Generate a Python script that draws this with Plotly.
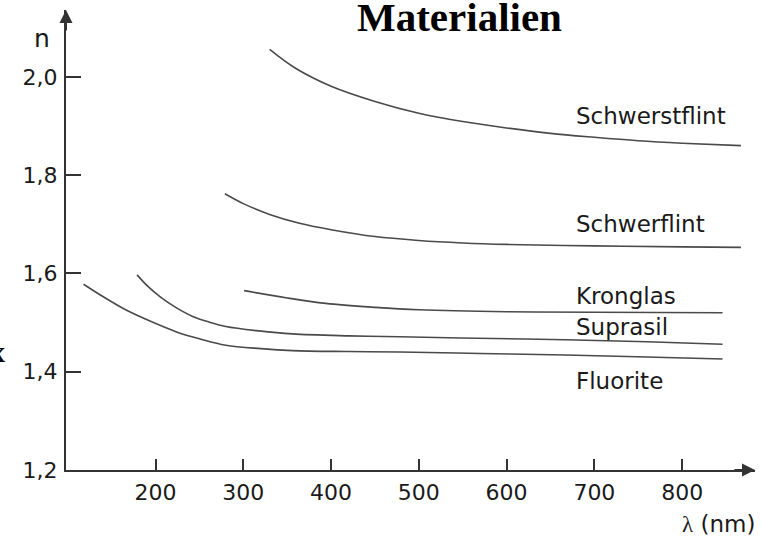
import plotly.graph_objects as go

# Wavelength (nm) and refractive index n
schwerstflint_x = [330, 360, 400, 450, 500, 550, 600, 650, 700, 750, 800, 867]
schwerstflint_y = [2.056, 2.017, 1.981, 1.950, 1.926, 1.909, 1.896, 1.885, 1.877, 1.870, 1.865, 1.860]

schwerflint_x = [279, 300, 330, 364, 400, 450, 500, 550, 600, 700, 800, 867]
schwerflint_y = [1.762, 1.742, 1.720, 1.702, 1.689, 1.675, 1.667, 1.662, 1.659, 1.656, 1.654, 1.653]

kronglas_x = [301, 350, 394, 450, 500, 600, 700, 846]
kronglas_y = [1.565, 1.550, 1.539, 1.531, 1.526, 1.522, 1.521, 1.520]

suprasil_x = [179, 191, 205, 223, 243, 261, 280, 318, 356, 420, 478, 567, 667, 760, 846]
suprasil_y = [1.597, 1.574, 1.553, 1.531, 1.512, 1.501, 1.492, 1.483, 1.477, 1.473, 1.471, 1.468, 1.465, 1.461, 1.456]

fluorite_x = [118, 140, 166, 195, 224, 252, 280, 320, 356, 420, 478, 570, 667, 760, 846]
fluorite_y = [1.578, 1.553, 1.526, 1.502, 1.481, 1.466, 1.454, 1.447, 1.443, 1.441, 1.440, 1.437, 1.434, 1.430, 1.426]

series_names = ["Schwerstflint", "Schwerflint", "Kronglas", "Suprasil", "Fluorite"]
series_x = [schwerstflint_x, schwerflint_x, kronglas_x, suprasil_x, fluorite_x]
series_y = [schwerstflint_y, schwerflint_y, kronglas_y, suprasil_y, fluorite_y]
label_n = [1.920, 1.700, 1.554, 1.490, 1.381]
label_lambda = 677

x_ticks = [200, 300, 400, 500, 600, 700, 800]
y_ticks = [1.2, 1.4, 1.6, 1.8, 2.0]
y_ticktext = ["1,2", "1,4", "1,6", "1,8", "2,0"]

X_RANGE = [98, 883]
Y_RANGE = [1.2, 2.136]

LINE = "#4a4a4a"
AX = "#333333"
SANS = "DejaVu Sans, Arial, sans-serif"
SERIF = "Liberation Serif, Times New Roman, serif"
TXT = "#1a1a1a"

fig = go.Figure()
for name, xs, ys in zip(series_names, series_x, series_y):
    fig.add_trace(go.Scatter(x=xs, y=ys, mode="lines", name=name,
                             line=dict(color=LINE, width=1.6, shape="spline", smoothing=1.0),
                             showlegend=False, hoverinfo="skip"))

annotations = []
for name, yl in zip(series_names, label_n):
    annotations.append(dict(x=label_lambda, y=yl, xref="x", yref="y", text=name,
                            showarrow=False, xanchor="left", yanchor="middle",
                            font=dict(family=SANS, size=23, color=TXT)))

# axis arrows
annotations.append(dict(x=X_RANGE[1], y=Y_RANGE[0], xref="x", yref="y", ax=-22, ay=0,
                        axref="pixel", ayref="pixel", text="", showarrow=True,
                        arrowhead=2, arrowsize=1.3, arrowwidth=2, arrowcolor=AX))
annotations.append(dict(x=X_RANGE[0], y=Y_RANGE[1], xref="x", yref="y", ax=0, ay=22,
                        axref="pixel", ayref="pixel", text="", showarrow=True,
                        arrowhead=2, arrowsize=1.3, arrowwidth=2, arrowcolor=AX))
# axis titles
annotations.append(dict(x=(42 - 66) / 689, y=(470 - 39) / 460, xref="paper", yref="paper",
                        text="n", showarrow=False, xanchor="center", yanchor="middle",
                        font=dict(family=SANS, size=25, color=TXT)))
annotations.append(dict(x=(757 - 66) / 689, y=(470 - 524) / 460, xref="paper", yref="paper",
                        text="<span style='font-family:Liberation Serif'>λ</span> (nm)",
                        showarrow=False, xanchor="right", yanchor="middle",
                        font=dict(family=SANS, size=23, color=TXT)))
# title (cropped heading)
annotations.append(dict(x=(460 - 66) / 689, y=(470 - 17) / 460, xref="paper", yref="paper",
                        text="<b>Materialien</b>", showarrow=False, xanchor="center",
                        yanchor="middle", font=dict(family=SERIF, size=41, color="black")))
# partial cropped letter at left edge
annotations.append(dict(x=(7 - 66) / 689, y=(470 - 351) / 460, xref="paper", yref="paper",
                        text="<b>x</b>", showarrow=False, xanchor="right",
                        yanchor="middle", font=dict(family=SERIF, size=30, color="black")))

fig.update_layout(
    width=762, height=540,
    margin=dict(l=66, r=7, t=10, b=70),
    paper_bgcolor="white", plot_bgcolor="white",
    annotations=annotations,
    xaxis=dict(range=X_RANGE, showgrid=False, zeroline=False, showline=True,
               linecolor=AX, linewidth=2, ticks="inside", ticklen=11, tickwidth=1.5,
               tickcolor=AX, tickvals=x_ticks, ticklabelstandoff=2,
               tickfont=dict(family=SANS, size=22, color=TXT)),
    yaxis=dict(range=Y_RANGE, showgrid=False, zeroline=False, showline=True,
               linecolor=AX, linewidth=2, ticks="inside", ticklen=15, tickwidth=1.5,
               tickcolor=AX, tickvals=y_ticks, ticktext=y_ticktext, ticklabelstandoff=2,
               tickfont=dict(family=SANS, size=22, color=TXT)),
)

fig.write_html("out.html")
